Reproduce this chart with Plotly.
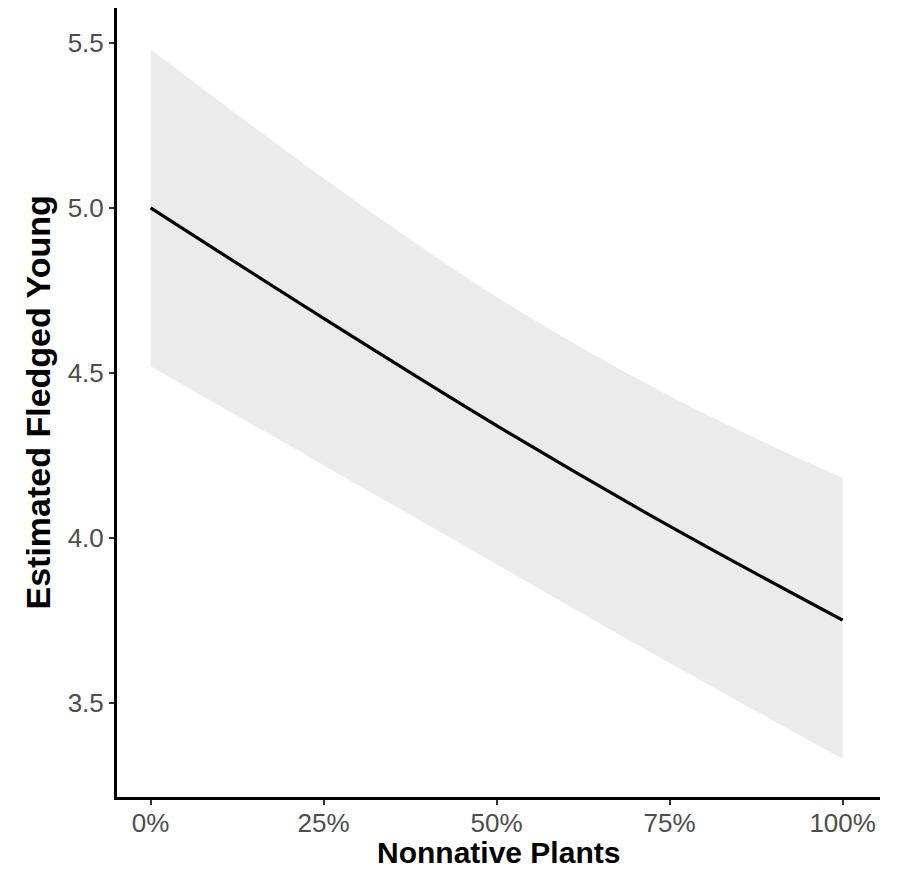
import plotly.graph_objects as go

# Data
nonnative_pct = [0, 25, 50, 75, 100]
fit = [5.00, 4.665, 4.34, 4.035, 3.75]
upper = [5.48, 5.09, 4.73, 4.43, 4.18]
lower = [4.52, 4.22, 3.92, 3.62, 3.33]
x_ticks = [0, 25, 50, 75, 100]
x_ticktext = ["0%", "25%", "50%", "75%", "100%"]
y_ticks = [3.5, 4.0, 4.5, 5.0, 5.5]
y_ticktext = ["3.5", "4.0", "4.5", "5.0", "5.5"]

FONT = "Liberation Sans, Arial, sans-serif"

fig = go.Figure()
fig.add_trace(go.Scatter(x=nonnative_pct, y=lower, mode="lines",
                         line=dict(width=0, shape="spline", smoothing=1.0), hoverinfo="skip",
                         showlegend=False))
fig.add_trace(go.Scatter(x=nonnative_pct, y=upper, mode="lines",
                         line=dict(width=0, shape="spline", smoothing=1.0), fill="tonexty",
                         fillcolor="#ebebeb", hoverinfo="skip", showlegend=False))
fig.add_trace(go.Scatter(x=nonnative_pct, y=fit, mode="lines",
                         line=dict(color="black", width=3.2, shape="spline", smoothing=1.0),
                         showlegend=False))

fig.update_layout(
    width=901, height=863,
    margin=dict(l=109, r=29, t=0, b=74),
    paper_bgcolor="white", plot_bgcolor="white",
    font=dict(family=FONT),
    xaxis=dict(
        range=[-4.86, 105.4], tickvals=x_ticks, ticktext=x_ticktext,
        showgrid=False, zeroline=False,
        showline=True, linecolor="black", linewidth=3,
        ticks="outside", ticklen=5, tickwidth=1.5, tickcolor="#333333",
        tickfont=dict(size=26, color="#4d4d4d", family=FONT),
        ticklabelstandoff=-4,
    ),
    yaxis=dict(
        range=[3.214, 5.606], tickvals=y_ticks, ticktext=y_ticktext,
        showgrid=False, zeroline=False,
        showline=True, linecolor="black", linewidth=3,
        ticks="outside", ticklen=5, tickwidth=1.5, tickcolor="#333333",
        tickfont=dict(size=26, color="#4d4d4d", family=FONT),
    ),
    annotations=[
        dict(text="<b>Nonnative Plants</b>", xref="paper", yref="paper",
             x=0.5, y=0, xanchor="center", yanchor="middle", yshift=-55,
             showarrow=False, font=dict(size=30, color="black", family=FONT)),
        dict(text="<b>Estimated Fledged Young</b>", xref="paper", yref="paper",
             x=0, y=0.5, xanchor="center", yanchor="middle", xshift=-80,
             textangle=-90, showarrow=False,
             font=dict(size=34, color="black", family=FONT)),
    ],
)

fig.write_html("out.html")
